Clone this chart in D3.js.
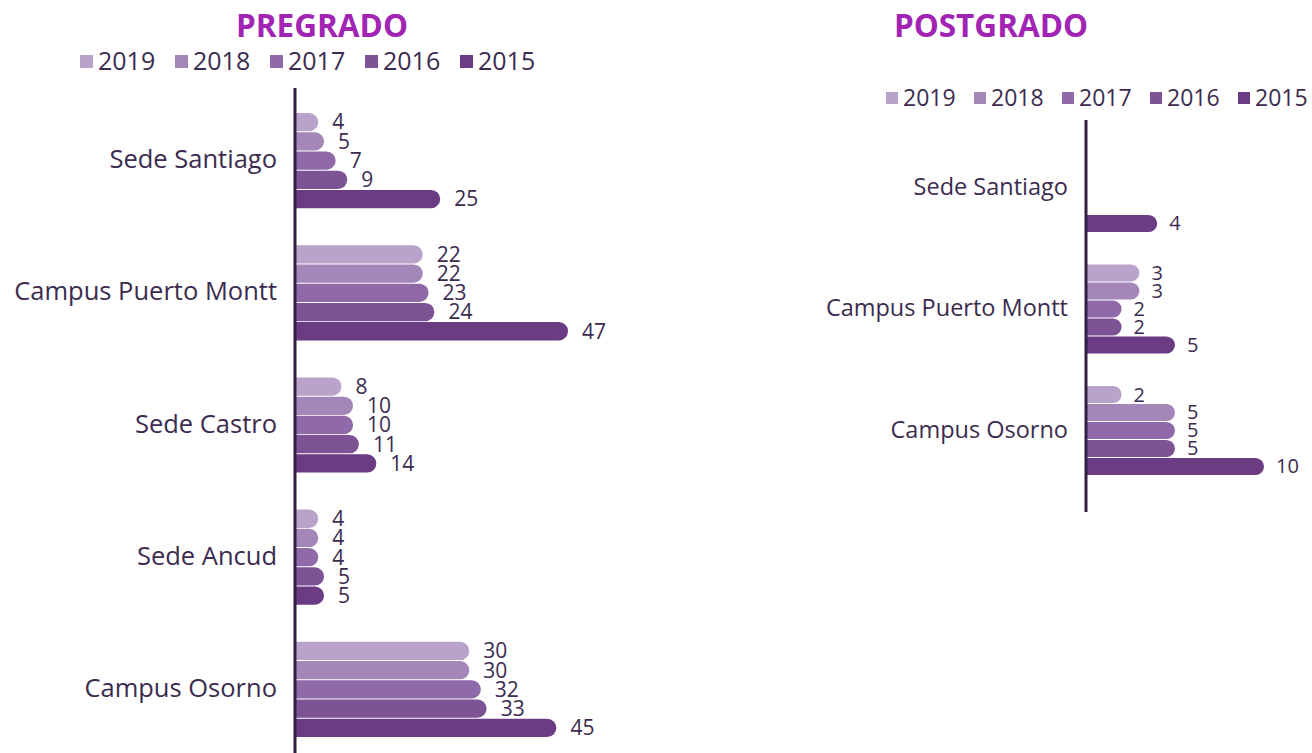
<!DOCTYPE html>
<html>
<head>
<meta charset="utf-8">
<script src="https://cdn.jsdelivr.net/npm/d3@7"></script>
<style>
	html, body { margin: 0; padding: 0; background: #fff; }
	svg { display: block; font-family: "Open Sans", "Noto Sans", sans-serif; }
	.cat { fill: #3b2c4f; }
	.val { fill: #3b2c4f; }
	.leg { fill: #3b2c4f; }
	.title { fill: #a224b4; font-weight: bold; }
</style>
</head>
<body>
<svg id="chart" width="1312" height="753"></svg>
<script>
// years, in the order they appear in the legend and inside each group
var years = ["2019", "2018", "2017", "2016", "2015"];
var yearColors = ["#b9a3ca", "#a487b8", "#8f69a8", "#7d5396", "#6b3b83"];

var pregradoCategories = ["Sede Santiago", "Campus Puerto Montt", "Sede Castro", "Sede Ancud", "Campus Osorno"];
var pregrado2019 = [4, 22, 8, 4, 30];
var pregrado2018 = [5, 22, 10, 4, 30];
var pregrado2017 = [7, 23, 10, 4, 32];
var pregrado2016 = [9, 24, 11, 5, 33];
var pregrado2015 = [25, 47, 14, 5, 45];

var postgradoCategories = ["Sede Santiago", "Campus Puerto Montt", "Campus Osorno"];
var postgrado2019 = [null, 3, 2];
var postgrado2018 = [null, 3, 5];
var postgrado2017 = [null, 2, 5];
var postgrado2016 = [null, 2, 5];
var postgrado2015 = [4, 5, 10];

var color = d3.scaleOrdinal().domain(years).range(yearColors);
var svg = d3.select("#chart");

// bar with a rounded right end only
var roundBar = function(x0, y, w, h) {
	var r = Math.min(h / 2, w);
	return "M" + x0 + "," + y
		+ "H" + (x0 + w - r)
		+ "A" + r + "," + r + " 0 0 1 " + (x0 + w) + "," + (y + r)
		+ "A" + r + "," + r + " 0 0 1 " + (x0 + w - r) + "," + (y + h)
		+ "H" + x0 + "Z";
};

var drawPanel = function(p) {
	var g = svg.append("g");

	g.append("text").attr("class", "title")
		.attr("x", p.titleX).attr("y", p.titleY)
		.attr("text-anchor", "middle")
		.style("font-size", p.titleSize + "px")
		.text(p.title);

	// legend
	var leg = g.selectAll("g.legitem")
		.data(years)
		.enter().append("g")
		.attr("transform", function(d, i) { return "translate(" + (p.legX + i * p.legStep) + "," + p.legY + ")"; });
	leg.append("rect")
		.attr("x", 0).attr("y", -p.legBox - 2)
		.attr("width", p.legBox).attr("height", p.legBox)
		.attr("fill", function(d) { return color(d); });
	leg.append("text").attr("class", "leg")
		.attr("x", p.legBox + 5).attr("y", 0)
		.style("font-size", p.legSize + "px")
		.text(function(d) { return d; });

	var x = d3.scaleLinear().domain([0, p.maxValue]).range([p.x0, p.x1]);
	var y = d3.scaleBand().domain(p.categories).range(p.yRange).paddingInner(p.groupPad).paddingOuter(0);
	var yy = d3.scaleBand().domain(years).range([0, y.bandwidth()]).paddingInner(0.05);

	var rows = [];
	p.categories.forEach(function(c, ci) {
		years.forEach(function(yr, yi) {
			rows.push({ cat: c, year: yr, value: p.series[yi][ci] });
		});
	});
	rows = rows.filter(function(r) { return r.value !== null; });

	g.selectAll("path.bar")
		.data(rows)
		.enter().append("path")
		.attr("class", "bar")
		.attr("fill", function(d) { return color(d.year); })
		.attr("d", function(d) {
			return roundBar(x(0), y(d.cat) + yy(d.year), x(d.value) - x(0), yy.bandwidth());
		});

	g.selectAll("text.val")
		.data(rows)
		.enter().append("text")
		.attr("class", "val")
		.attr("x", function(d) { return x(d.value) + p.valGap; })
		.attr("y", function(d) { return y(d.cat) + yy(d.year) + yy.bandwidth() / 2; })
		.attr("dy", "0.35em")
		.style("font-size", p.valSize + "px")
		.text(function(d) { return d.value; });

	g.selectAll("text.cat")
		.data(p.categories)
		.enter().append("text")
		.attr("class", "cat")
		.attr("x", p.x0 - 18)
		.attr("y", function(d) { return y(d) + y.bandwidth() / 2; })
		.attr("dy", "0.3em")
		.attr("text-anchor", "end")
		.style("font-size", p.catSize + "px")
		.text(function(d) { return d; });

	// axis line
	g.append("line")
		.attr("x1", p.x0).attr("x2", p.x0)
		.attr("y1", p.axisTop).attr("y2", p.axisBottom)
		.attr("stroke", "#2f2142").attr("stroke-width", 3);
};

drawPanel({
	title: "PREGRADO", titleX: 322, titleY: 37, titleSize: 31.5,
	legX: 80, legY: 70, legStep: 95, legBox: 13, legSize: 25,
	categories: pregradoCategories,
	series: [pregrado2019, pregrado2018, pregrado2017, pregrado2016, pregrado2015],
	maxValue: 47, x0: 295, x1: 568,
	yRange: [113, 737], groupPad: 0.28,
	valGap: 14, valSize: 21, catSize: 25.5,
	axisTop: 88, axisBottom: 753
});

drawPanel({
	title: "POSTGRADO", titleX: 991, titleY: 37, titleSize: 31.5,
	legX: 886, legY: 106, legStep: 88, legBox: 12, legSize: 23,
	categories: postgradoCategories,
	series: [postgrado2019, postgrado2018, postgrado2017, postgrado2016, postgrado2015],
	maxValue: 10, x0: 1086, x1: 1264,
	yRange: [143, 475], groupPad: 0.267,
	valGap: 12, valSize: 20, catSize: 23.5,
	axisTop: 120, axisBottom: 512
});
</script>
</body>
</html>
